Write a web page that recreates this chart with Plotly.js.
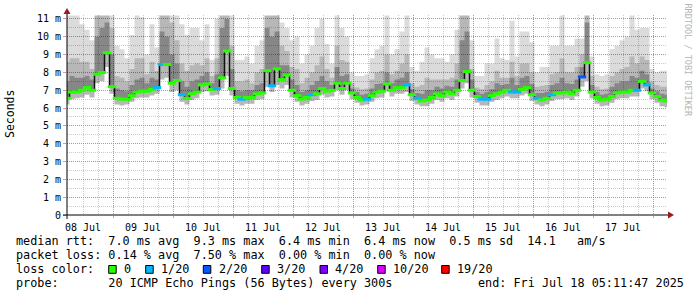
<!DOCTYPE html>
<html><head><meta charset="utf-8">
<script src="https://cdn.plot.ly/plotly-3.0.1.min.js"></script>
<style>html,body{margin:0;padding:0;background:#fff;}#chart{width:697px;height:297px;}</style>
</head><body><div id="chart"></div>
<script>
// ---- data (milliseconds), one sample every 2 hours ----
const startTime = '2025-07-08 05:36:00';
const endTime   = '2025-07-18 05:36:00';
const stepHours = 2;

const medianRtt = [6.55,6.9,6.9,7.0,7.15,7.0,7.9,8.0,9.1,7.2,
 6.55,6.5,6.5,6.7,6.9,6.95,6.95,7.05,7.15,8.45,
 8.45,7.4,7.55,6.75,6.55,6.8,6.9,7.3,7.35,7.05,
 7.1,7.7,9.2,7.1,6.6,6.5,6.6,6.6,6.8,6.85,
 8.1,7.25,8.2,7.6,7.85,7.0,6.7,6.5,6.6,6.75,
 6.8,7.1,6.95,7.0,7.4,7.1,7.4,6.85,6.6,6.45,
 6.5,6.7,6.9,6.95,7.35,7.0,7.15,7.15,7.3,6.75,
 6.55,6.4,6.45,6.6,6.8,6.7,6.9,6.8,7.0,7.55,
 8.05,7.0,6.65,6.5,6.5,6.7,6.8,6.9,7.0,6.9,
 6.9,7.05,7.15,6.75,6.55,6.45,6.55,6.75,6.85,6.85,
 6.9,6.8,7.0,7.75,8.55,6.9,6.6,6.45,6.5,6.65,
 6.85,6.9,6.9,7.0,7.0,7.5,7.3,6.85,6.65,6.45,
 6.4];

const smokeMax = [11.2,11.2,11.2,10.7,10.4,9.8,11.2,11.2,11.2,11.2,
 9.5,9.3,8.8,10.1,11.2,11.1,9.0,10.7,9.4,11.2,
 11.2,11.2,11.2,10.7,10.1,10.5,10.5,9.8,10.7,8.7,
 11.0,11.2,11.2,11.2,8.7,8.7,8.9,8.5,9.5,9.8,
 11.2,11.2,11.2,10.8,10.5,9.8,10.0,8.5,9.0,9.5,
 10.5,11.0,9.6,8.5,11.2,10.5,10.0,8.0,7.8,7.8,
 7.9,8.8,9.3,9.5,11.2,9.0,9.3,10.3,11.2,8.3,
 8.1,8.6,9.4,9.0,8.8,8.8,8.6,9.0,10.4,11.2,
 11.2,9.8,7.8,7.8,8.5,8.5,9.9,8.8,8.7,10.9,
 8.9,10.3,10.3,9.7,8.0,8.3,8.3,9.5,9.5,11.2,
 9.5,9.5,9.9,9.9,11.2,8.9,7.9,7.8,7.9,9.3,
 9.5,9.8,10.0,11.2,10.4,10.5,10.5,8.2,8.0,8.1,
 8.1];

const smokeMid = [8.6,8.8,8.8,8.6,8.6,8.2,11.2,11.2,11.2,10.5,
 7.8,7.7,7.5,8.2,8.8,8.8,7.9,8.6,8.1,11.2,
 11.2,10.8,9.8,8.5,8.1,8.4,8.5,8.4,8.8,7.8,
 8.8,11.2,11.2,9.5,7.5,7.5,7.6,7.4,8.0,8.2,
 11.2,11.2,11.2,9.5,9.2,8.3,8.2,7.4,7.7,8.0,
 8.4,8.9,8.2,7.7,9.5,8.7,8.6,7.4,7.15,7.05,
 7.1,7.6,8.0,8.1,9.0,7.9,8.1,8.5,9.0,7.4,
 7.2,7.3,7.7,7.6,7.6,7.6,7.6,7.7,8.5,11.2,
 11.2,8.2,7.15,7.05,7.3,7.5,8.1,7.7,7.7,8.6,
 7.8,8.5,8.5,8.0,7.2,7.25,7.3,7.9,8.0,8.8,
 8.0,8.0,8.3,9.0,11.2,7.8,7.2,7.05,7.1,7.8,
 8.0,8.2,8.3,8.9,8.5,8.9,8.7,7.5,7.3,7.2,
 7.2];

const smokeInner = [7.5,7.8,7.7,7.7,7.8,7.6,10.0,10.5,10.8,9.0,
 7.1,7.0,6.95,7.3,7.6,7.7,7.4,7.7,7.6,10.3,
 10.0,9.0,8.5,7.5,7.2,7.5,7.6,7.8,8.0,7.4,
 7.9,10.5,11.0,8.2,7.0,6.95,7.0,7.0,7.3,7.4,
 10.5,10.0,10.3,8.4,8.4,7.6,7.3,6.9,7.0,7.3,
 7.5,7.8,7.5,7.3,8.3,7.8,7.9,7.1,6.9,6.75,
 6.8,7.1,7.35,7.4,8.0,7.4,7.6,7.7,8.0,7.05,
 6.85,6.8,7.0,7.0,7.2,7.1,7.25,7.2,7.6,9.8,
 10.3,7.6,6.9,6.8,6.9,7.05,7.4,7.3,7.35,7.7,
 7.3,7.7,7.8,7.35,6.85,6.85,6.9,7.3,7.4,7.7,
 7.4,7.35,7.6,8.3,10.8,7.3,6.9,6.75,6.8,7.2,
 7.4,7.5,7.5,7.8,7.7,8.1,7.9,7.1,6.95,6.8,
 6.75];

const smokeMin = [6.2,6.5,6.55,6.6,6.75,6.6,7.4,7.5,8.3,6.8,
 6.2,6.15,6.2,6.35,6.55,6.6,6.6,6.7,6.8,7.6,
 7.7,6.9,7.0,6.35,6.2,6.45,6.55,6.9,6.95,6.7,
 6.75,7.1,7.8,6.7,6.25,6.15,6.25,6.25,6.45,6.5,
 7.2,6.9,7.3,7.1,7.3,6.6,6.35,6.15,6.25,6.4,
 6.45,6.75,6.6,6.65,7.0,6.75,7.0,6.5,6.3,6.15,
 6.2,6.35,6.55,6.6,6.95,6.65,6.8,6.8,6.9,6.4,
 6.2,6.1,6.1,6.25,6.45,6.35,6.55,6.45,6.65,7.1,
 7.4,6.6,6.3,6.15,6.15,6.35,6.45,6.55,6.65,6.55,
 6.55,6.7,6.8,6.4,6.2,6.1,6.2,6.4,6.5,6.5,
 6.55,6.45,6.65,7.2,7.5,6.55,6.25,6.1,6.15,6.3,
 6.5,6.55,6.55,6.65,6.65,7.1,6.95,6.5,6.3,6.1,
 6.05];

// lost pings (out of 20) per sample
const lostPings = [0,0,0,0,0,0,0,0,0,0,
 0,0,0,0,0,0,0,0,1,1,
 0,0,0,1,0,0,0,0,0,0,
 1,0,0,0,0,1,0,0,0,0,
 0,1,0,0,0,0,0,0,0,1,
 0,0,0,0,0,0,0,0,0,0,
 1,0,0,0,0,0,0,0,1,0,
 1,0,0,0,0,0,0,0,0,0,
 0,0,0,1,1,0,0,0,0,1,
 1,0,0,0,1,0,0,1,0,0,
 0,0,0,2,0,0,0,0,0,0,
 0,0,0,0,1,0,1,0,0,0,
 0];

const lossLabels = ['0','1/20','2/20','3/20','4/20','10/20','19/20'];
const lossLimits = [0,1,2,3,4,10,19];
const lossColors = ['#26ff00','#00b8ff','#0059ff','#5e00ff','#7e00ff','#dd00ff','#ff0000'];

const yTickVals = [0,1,2,3,4,5,6,7,8,9,10,11];
const yTickText = ['0','1 m','2 m','3 m','4 m','5 m','6 m','7 m','8 m','9 m','10 m','11 m'];
const dayStarts = ['2025-07-09','2025-07-10','2025-07-11','2025-07-12','2025-07-13','2025-07-14','2025-07-15','2025-07-16','2025-07-17','2025-07-18'];
const dayNoons = ['2025-07-08 12:00','2025-07-09 12:00','2025-07-10 12:00','2025-07-11 12:00','2025-07-12 12:00','2025-07-13 12:00','2025-07-14 12:00','2025-07-15 12:00','2025-07-16 12:00','2025-07-17 12:00'];
const dayLabels = ['08 Jul','09 Jul','10 Jul','11 Jul','12 Jul','13 Jul','14 Jul','15 Jul','16 Jul','17 Jul'];

const statLine1 = 'median rtt:  7.0 ms avg  9.3 ms max  6.4 ms min  6.4 ms now  0.5 ms sd  14.1   am/s';
const statLine2 = 'packet loss: 0.14 % avg  7.50 % max  0.00 % min  0.00 % now';
const probeLine = 'probe:       20 ICMP Echo Pings (56 Bytes) every 300s';
const endLine = 'end: Fri Jul 18 05:11:47 2025';

// ---- build ----
const t0 = Date.parse(startTime.replace(' ','T') + 'Z');
const times = medianRtt.map((_, i) => new Date(t0 + i*stepHours*3600000).toISOString().slice(0,19).replace('T',' '));
function lossColor(n){ let c = lossColors[0]; for (let k=0;k<lossLimits.length;k++){ if (n >= lossLimits[k]) c = lossColors[k]; } return c; }

const L = 67, T = 15, W = 600, H = 200;
const px = x => (x - L) / W;
const py = y => (T + H - y) / H;

const mono = 'DejaVu Sans Mono';
const base = {type:'scatter', mode:'lines', hoverinfo:'skip', showlegend:false};
const traces = [];
function band(lower, upper, color){
  traces.push(Object.assign({}, base, {x:times, y:lower, line:{width:0, shape:'hvh'}}));
  traces.push(Object.assign({}, base, {x:times, y:upper, line:{width:0, shape:'hvh'}, fill:'tonexty', fillcolor:color}));
}
band(smokeMin, smokeMax, 'rgba(0,0,0,0.14)');
band(smokeMin, smokeMid, 'rgba(0,0,0,0.16)');
band(medianRtt, smokeInner, 'rgba(0,0,0,0.26)');
traces.push(Object.assign({}, base, {x:times, y:medianRtt, line:{color:'#111', width:1.5, shape:'hvh'}}));
traces.push(Object.assign({}, base, {x:times, y:medianRtt, mode:'markers',
  marker:{symbol:'line-ew', size:6, color:lostPings.map(lossColor), line:{width:3, color:lostPings.map(lossColor)}}}));
traces.push({type:'scatter', x:[startTime], y:[0], xaxis:'x2', yaxis:'y', mode:'markers', marker:{opacity:0}, hoverinfo:'skip', showlegend:false});

const gridRed = 'rgba(222,110,110,0.75)';
const gridGray = 'rgba(150,150,150,0.5)';

const shapes = [
  {type:'line', xref:'paper', yref:'paper', x0:px(63), x1:px(669), y0:py(215), y1:py(215), line:{color:'#000', width:1}},
  {type:'line', xref:'paper', yref:'paper', x0:px(67), x1:px(67), y0:py(219), y1:py(12), line:{color:'#000', width:1}},
  {type:'path', xref:'paper', yref:'paper', path:`M ${px(668)},${py(211.5)} L ${px(674)},${py(215)} L ${px(668)},${py(218.5)} Z`, fillcolor:'#9b1c1c', line:{width:0}},
  {type:'path', xref:'paper', yref:'paper', path:`M ${px(63.5)},${py(14)} L ${px(67)},${py(8)} L ${px(70.5)},${py(14)} Z`, fillcolor:'#9b1c1c', line:{width:0}}
];

const annotations = [];
function txt(text, x, y, opts){
  annotations.push(Object.assign({text:text, xref:'paper', yref:'paper', x:px(x), y:py(y), xanchor:'left', yanchor:'middle',
    showarrow:false, borderpad:0, font:{family:mono, size:11.8, color:'#000'}}, opts||{}));
}
txt(statLine1, 15, 241.3);
txt(statLine2, 15, 255.3);
txt('loss color:', 15, 269.3);
txt(probeLine, 15, 283.3);
txt(endLine, 477, 283.3);
const boxX = [108.7,145.7,203.3,261.7,320,377.7,441.7];
const labX = [122.5,159.5,217.5,275.5,334,392,455.5];
lossLabels.forEach((lab, k) => {
  shapes.push({type:'rect', xref:'paper', yref:'paper', x0:px(boxX[k]), x1:px(boxX[k]+7.5), y0:py(273.3), y1:py(265.5),
    fillcolor:lossColors[k], line:{color:'#000', width:1}});
  txt(lab, labX[k], 269.3);
});
annotations.push({text:'Seconds', xref:'paper', yref:'paper', x:px(10), y:py(114), xanchor:'center', yanchor:'middle',
  textangle:-90, showarrow:false, font:{family:mono, size:11.5, color:'#000'}});
annotations.push({text:'RRDTOOL / TOBI OETIKER', xref:'paper', yref:'paper', x:px(687.5), y:py(60), xanchor:'center', yanchor:'middle',
  textangle:90, showarrow:false, font:{family:mono, size:8.5, color:'#b4b4b4'}});

const layout = {
  width:697, height:297, autosize:false,
  margin:{l:L, r:697-L-W, t:T, b:297-T-H, pad:0},
  paper_bgcolor:'#fff', plot_bgcolor:'#fff',
  showlegend:false, hovermode:false,
  xaxis:{type:'date', range:[startTime,endTime], tickmode:'array', tickvals:dayStarts, ticktext:dayStarts.map(()=>''),
    showgrid:true, gridcolor:gridRed, griddash:'1px,1px', gridwidth:1, ticks:'outside', ticklen:2, tickcolor:gridRed,
    showline:false, zeroline:false, fixedrange:true,
    minor:{tickmode:'linear', tick0:'2025-07-08 00:00', dtick:6*3600000, showgrid:true, gridcolor:gridGray, griddash:'1px,1px', gridwidth:1, ticks:''}},
  xaxis2:{type:'date', overlaying:'x', anchor:'y', side:'bottom', range:[startTime,endTime], tickmode:'array', tickvals:dayNoons, ticktext:dayLabels,
    showgrid:false, ticks:'outside', ticklen:3, tickcolor:'rgba(0,0,0,0)', showline:false, zeroline:false,
    tickfont:{family:mono, size:10, color:'#000'}, fixedrange:true},
  yaxis:{range:[0, 200/17.82], tickmode:'array', tickvals:yTickVals, ticktext:yTickText,
    showgrid:true, gridcolor:gridRed, griddash:'1px,1px', gridwidth:1, ticks:'outside', ticklen:3, tickcolor:gridRed,
    showline:false, zeroline:false, fixedrange:true, tickfont:{family:mono, size:10, color:'#000'},
    minor:{tickmode:'linear', tick0:0, dtick:0.5, showgrid:true, gridcolor:gridGray, griddash:'1px,1px', gridwidth:1, ticks:''}},
  shapes:shapes, annotations:annotations
};
Plotly.newPlot('chart', traces, layout, {staticPlot:true, displayModeBar:false});
</script>
</body></html>
